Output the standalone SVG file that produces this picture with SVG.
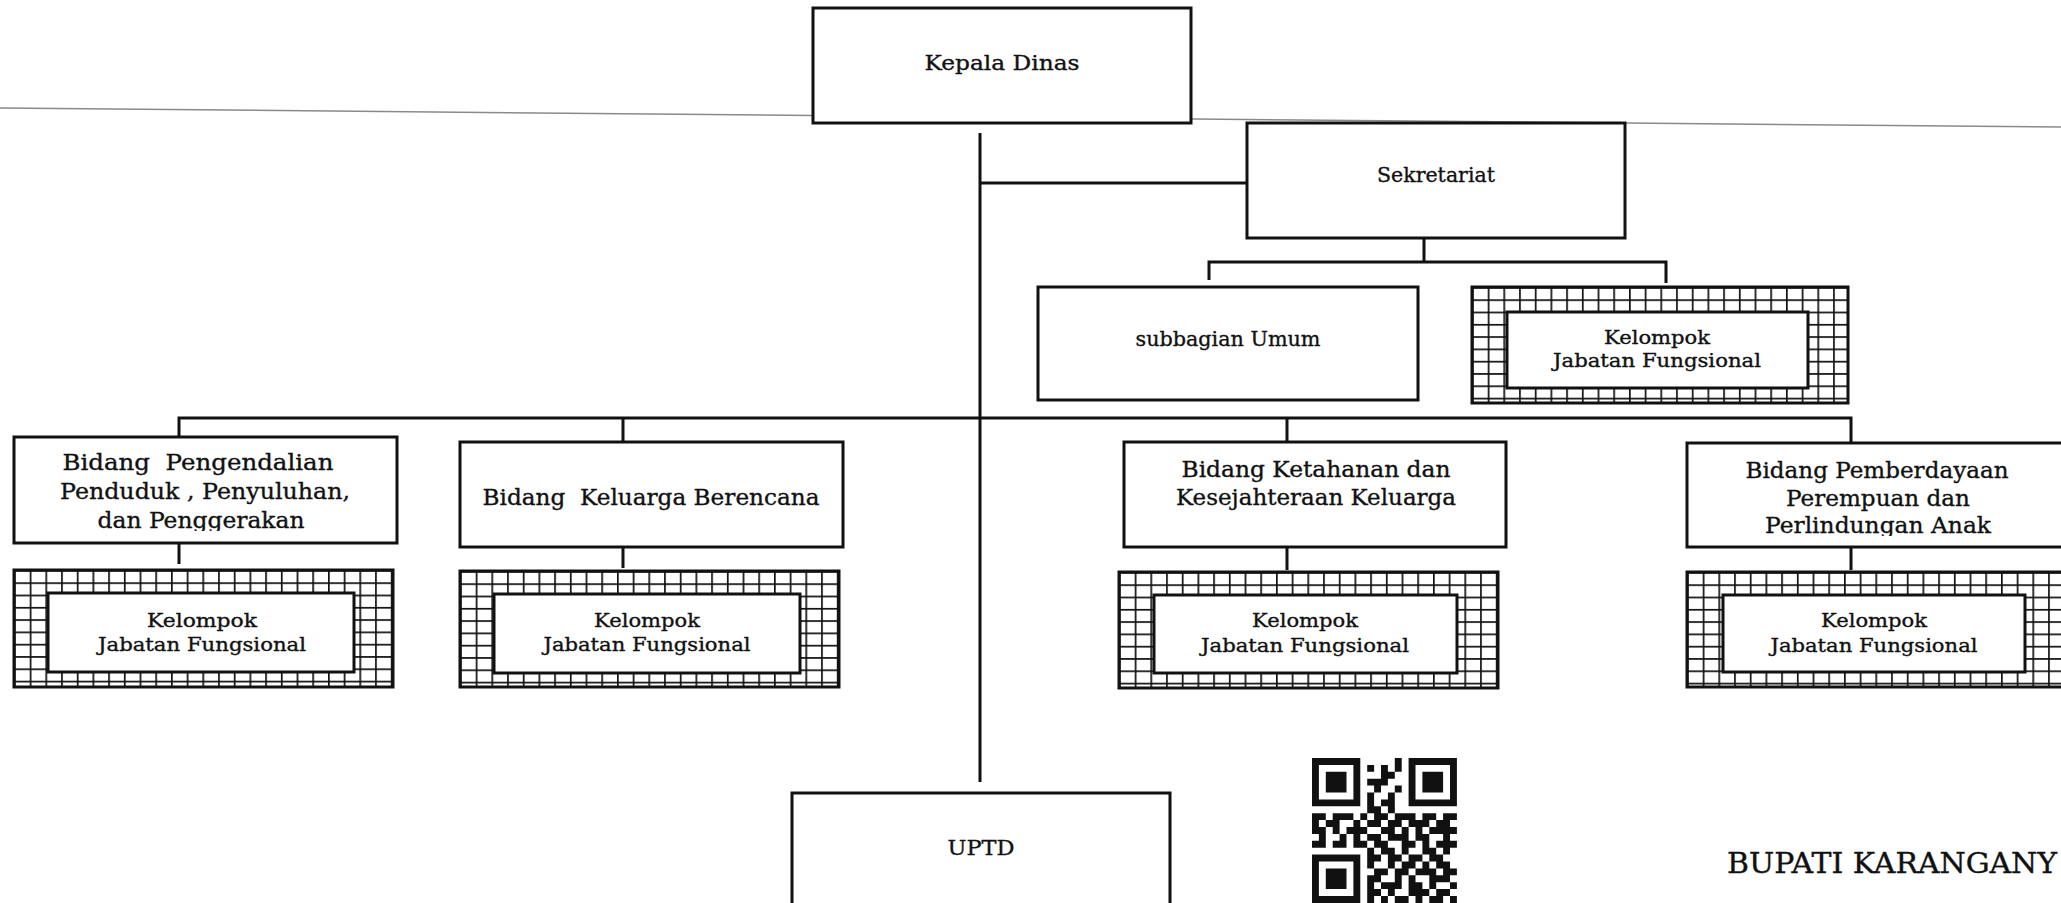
<svg xmlns="http://www.w3.org/2000/svg" width="2061" height="903" viewBox="0 0 2061 903">
<style>
.box{fill:#fff;stroke:#111;stroke-width:3}
.hatch{fill:url(#grid);stroke:#111;stroke-width:3}
.inner{fill:#fff;stroke:#111;stroke-width:3}
.conn{stroke:#111;stroke-width:3;fill:none}
text{font-family:"DejaVu Serif","Liberation Serif",serif;fill:#111;stroke:#111;stroke-width:0.35px;text-anchor:middle}
.t21{font-size:21px}
.tb{font-size:23px}
.tk{font-size:19px}
.tbu{font-size:27px;text-anchor:start}
</style>
<defs>
<pattern id="grid" patternUnits="userSpaceOnUse" width="15.7" height="12.3">
<rect width="15.7" height="12.3" fill="#fff"/>
<rect width="1.7" height="12.3" fill="#111"/>
<rect width="15.7" height="1.7" fill="#111"/>
</pattern>
<clipPath id="clipB1"><rect x="14" y="437" width="383" height="94"/></clipPath>
<clipPath id="clipB4"><rect x="1687" y="443" width="380" height="93"/></clipPath>
</defs>
<rect width="2061" height="903" fill="#fff"/>
<line x1="0" y1="108" x2="2061" y2="127" stroke="#8a8a8a" stroke-width="1.5"/>

<g id="connectors" class="conn">
<path d="M980 133V782"/>
<path d="M980 183H1247"/>
<path d="M1424 238V262M1209 280V262H1666V283"/>
<path d="M179 437V418H1851V443M623 418V442M1287 418V442"/>
<path d="M179 543V564M623 547V568M1287 547V570M1851 547V570"/>
</g>

<g id="kepala-dinas">
<rect class="box" x="813" y="8" width="378" height="115"/>
<text class="t21" x="1002" y="70" textLength="155" lengthAdjust="spacingAndGlyphs">Kepala Dinas</text>
</g>

<g id="sekretariat">
<rect class="box" x="1247" y="123" width="378" height="115"/>
<text class="t21" x="1436" y="182" textLength="118" lengthAdjust="spacingAndGlyphs">Sekretariat</text>
</g>

<g id="subbagian-umum">
<rect class="box" x="1038" y="287" width="380" height="113"/>
<text class="t21" x="1228" y="346" textLength="185" lengthAdjust="spacingAndGlyphs">subbagian Umum</text>
</g>

<g id="kjf-sekretariat" transform="translate(1472,287)">
<rect class="hatch" width="376" height="116"/>
<rect class="inner" x="35" y="25" width="301" height="76"/>
<text class="tk" x="185" y="57" textLength="106" lengthAdjust="spacingAndGlyphs">Kelompok</text>
<text class="tk" x="185" y="80" textLength="208" lengthAdjust="spacingAndGlyphs">Jabatan Fungsional</text>
</g>

<g id="bidang-pengendalian">
<rect class="box" x="14" y="437" width="383" height="106"/>
<g clip-path="url(#clipB1)">
<text class="tb" x="198" y="470" textLength="271" lengthAdjust="spacingAndGlyphs" xml:space="preserve">Bidang  Pengendalian</text>
<text class="tb" x="205" y="499" textLength="290" lengthAdjust="spacingAndGlyphs">Penduduk , Penyuluhan,</text>
<text class="tb" x="201" y="528" textLength="207" lengthAdjust="spacingAndGlyphs">dan Penggerakan</text>
</g>
</g>

<g id="bidang-kb">
<rect class="box" x="460" y="442" width="383" height="105"/>
<text class="tb" x="651" y="505" textLength="337" lengthAdjust="spacingAndGlyphs" xml:space="preserve">Bidang  Keluarga Berencana</text>
</g>

<g id="bidang-ketahanan">
<rect class="box" x="1124" y="442" width="382" height="105"/>
<text class="tb" x="1316" y="477" textLength="269" lengthAdjust="spacingAndGlyphs">Bidang Ketahanan dan</text>
<text class="tb" x="1316" y="505" textLength="280" lengthAdjust="spacingAndGlyphs">Kesejahteraan Keluarga</text>
</g>

<g id="bidang-pemberdayaan">
<rect class="box" x="1687" y="443" width="380" height="104"/>
<g clip-path="url(#clipB4)">
<text class="tb" x="1877" y="478" textLength="263" lengthAdjust="spacingAndGlyphs">Bidang Pemberdayaan</text>
<text class="tb" x="1878" y="506" textLength="184" lengthAdjust="spacingAndGlyphs">Perempuan dan</text>
<text class="tb" x="1878" y="533" textLength="226" lengthAdjust="spacingAndGlyphs">Perlindungan Anak</text>
</g>
</g>

<g id="kjf-pengendalian" transform="translate(14,570)">
<rect class="hatch" width="379" height="117"/>
<rect class="inner" x="34" y="23" width="306" height="79"/>
<text class="tk" x="188" y="57" textLength="110" lengthAdjust="spacingAndGlyphs">Kelompok</text>
<text class="tk" x="188" y="81" textLength="208" lengthAdjust="spacingAndGlyphs">Jabatan Fungsional</text>
</g>

<g id="kjf-kb" transform="translate(460,571)">
<rect class="hatch" width="379" height="116"/>
<rect class="inner" x="34" y="23" width="306" height="79"/>
<text class="tk" x="187" y="56" textLength="106" lengthAdjust="spacingAndGlyphs">Kelompok</text>
<text class="tk" x="187" y="80" textLength="207" lengthAdjust="spacingAndGlyphs">Jabatan Fungsional</text>
</g>

<g id="kjf-ketahanan" transform="translate(1119,572)">
<rect class="hatch" width="379" height="116"/>
<rect class="inner" x="35" y="23" width="303" height="78"/>
<text class="tk" x="186" y="55" textLength="106" lengthAdjust="spacingAndGlyphs">Kelompok</text>
<text class="tk" x="186" y="80" textLength="208" lengthAdjust="spacingAndGlyphs">Jabatan Fungsional</text>
</g>

<g id="kjf-pemberdayaan" transform="translate(1687,572)">
<rect class="hatch" width="377" height="115"/>
<rect class="inner" x="36" y="23" width="302" height="77"/>
<text class="tk" x="187" y="55" textLength="106" lengthAdjust="spacingAndGlyphs">Kelompok</text>
<text class="tk" x="187" y="80" textLength="207" lengthAdjust="spacingAndGlyphs">Jabatan Fungsional</text>
</g>

<g id="uptd">
<rect class="box" x="792" y="793" width="378" height="125"/>
<text class="t21" x="981" y="855" textLength="67" lengthAdjust="spacingAndGlyphs">UPTD</text>
</g>

<g id="qr-code" transform="translate(1312,758) scale(6.9)" fill="#111">
<path fill-rule="evenodd" d="M0 0h7v7h-7zM1 1v5h5v-5zM2 2h3v3h-3zM14 0h7v7h-7zM15 1v5h5v-5zM16 2h3v3h-3zM0 14h7v7h-7zM1 15v5h5v-5zM2 16h3v3h-3z"/>
<path d="M12 0h1v1h-1zM8 1h1v1h-1zM10 1h1v1h-1zM12 1h1v1h-1zM10 2h2v1h-2zM8 3h3v1h-3zM9 4h1v1h-1zM12 4h1v1h-1zM8 5h1v1h-1zM11 5h1v1h-1zM8 6h1v1h-1zM10 6h2v1h-2zM8 7h2v1h-2zM11 7h1v1h-1zM0 8h2v1h-2zM3 8h3v1h-3zM7 8h1v1h-1zM9 8h2v1h-2zM12 8h3v1h-3zM16 8h2v1h-2zM19 8h2v1h-2zM0 9h1v1h-1zM2 9h2v1h-2zM6 9h1v1h-1zM8 9h2v1h-2zM11 9h2v1h-2zM14 9h3v1h-3zM18 9h2v1h-2zM0 10h2v1h-2zM3 10h1v1h-1zM5 10h3v1h-3zM10 10h2v1h-2zM13 10h1v1h-1zM15 10h1v1h-1zM17 10h4v1h-4zM1 11h1v1h-1zM4 11h1v1h-1zM6 11h1v1h-1zM8 11h2v1h-2zM11 11h3v1h-3zM15 11h2v1h-2zM19 11h1v1h-1zM0 12h2v1h-2zM3 12h2v1h-2zM6 12h2v1h-2zM9 12h2v1h-2zM13 12h2v1h-2zM16 12h1v1h-1zM18 12h3v1h-3zM8 13h1v1h-1zM10 13h2v1h-2zM13 13h1v1h-1zM16 13h2v1h-2zM19 13h1v1h-1zM8 14h2v1h-2zM11 14h2v1h-2zM14 14h2v1h-2zM17 14h2v1h-2zM8 15h1v1h-1zM11 15h1v1h-1zM13 15h2v1h-2zM16 15h1v1h-1zM18 15h2v1h-2zM9 16h2v1h-2zM12 16h2v1h-2zM15 16h3v1h-3zM19 16h2v1h-2zM8 17h2v1h-2zM12 17h1v1h-1zM14 17h1v1h-1zM17 17h3v1h-3zM8 18h1v1h-1zM10 18h3v1h-3zM14 18h2v1h-2zM17 18h1v1h-1zM20 18h1v1h-1zM8 19h2v1h-2zM11 19h1v1h-1zM14 19h3v1h-3zM18 19h2v1h-2zM8 20h1v1h-1zM10 20h1v1h-1zM12 20h2v1h-2zM15 20h1v1h-1zM17 20h2v1h-2zM20 20h1v1h-1z"/>
</g>

<text class="tbu" x="1727" y="873" textLength="330" lengthAdjust="spacingAndGlyphs">BUPATI KARANGANY</text>
</svg>
